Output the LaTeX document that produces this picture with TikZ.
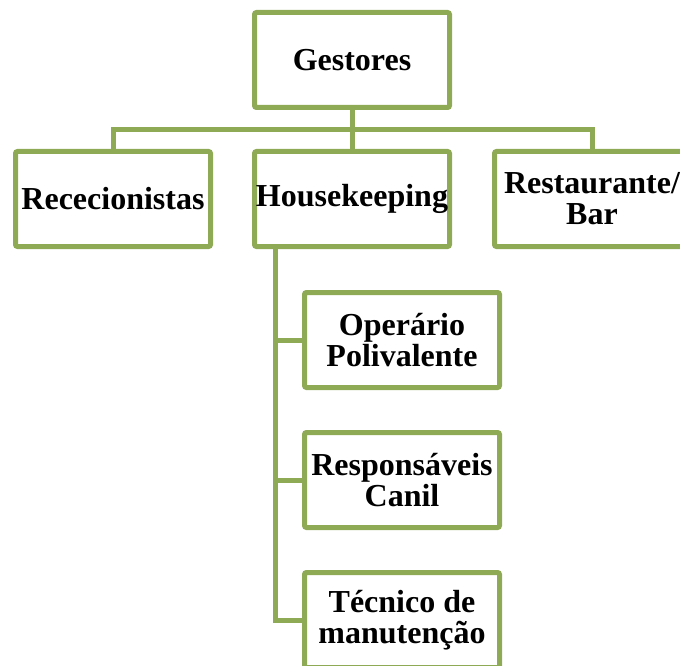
\documentclass[tikz,border=0pt]{standalone}
\usepackage{fontspec}
\setmainfont{Liberation Serif}
\usepackage{tikz}

\definecolor{orggreen}{RGB}{143,170,84}

\tikzset{
	unitbox/.style={draw=orggreen, line width=5pt, rounded corners=2pt, fill=white,
		minimum width=195pt, minimum height=95pt, inner sep=0pt, align=center,
		font=\fontsize{32}{31}\selectfont\bfseries},
	link/.style={draw=orggreen, line width=5pt}
}

\begin{document}
\begin{tikzpicture}[x=1pt,y=-1pt]
		\useasboundingbox (0,0) rectangle (680,666);
		\clip (0,0) rectangle (680,666);
		% topo
		\node[unitbox] (gest) at (352,60) {Gestores};
		% segundo nivel
		\node[unitbox] (rec) at (113,199) {Rececionistas};
		\node[unitbox] (hk) at (352,199) {Housekeeping};
		\node[unitbox] (rest) at (592,199) {Restaurante/\\Bar};
		% dependentes de housekeeping
		\node[unitbox] (op) at (402,340) {Operário\\Polivalente};
		\node[unitbox] (resp) at (402,480) {Responsáveis\\Canil};
		\node[unitbox] (tec) at (402,620) {Técnico de\\manutenção};
		% ligacoes
		\coordinate (bus) at (352,130);
		\coordinate (spine) at (275,248);
		\draw[link] (gest.south) -- (hk.north);
		\draw[link] (rec.north) |- (bus) -| (rest.north);
		\draw[link] (spine) |- (tec.west);
		\draw[link] (spine |- op.west) -- (op.west);
		\draw[link] (spine |- resp.west) -- (resp.west);
	\end{tikzpicture}
\end{document}
